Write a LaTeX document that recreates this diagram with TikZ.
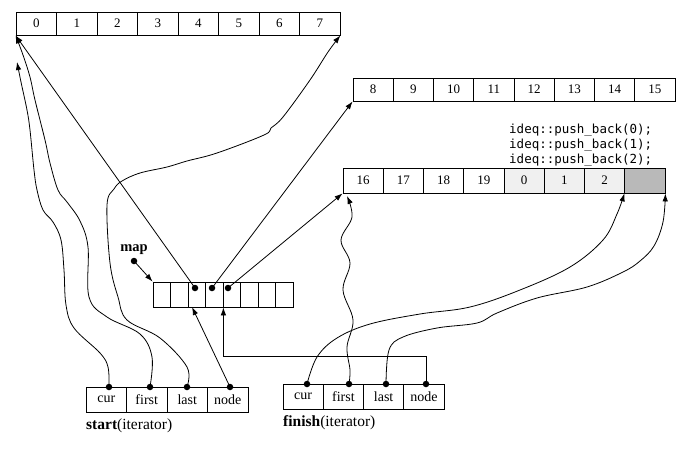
\documentclass[tikz,border=0pt]{standalone}
\usepackage{fontspec}
\setmainfont{Liberation Serif}
\newfontfamily\monofont{DejaVu Sans Mono}
\usetikzlibrary{arrows.meta,calc}
\tikzset{
  cell/.style={draw, line width=0.8pt, inner sep=0, minimum width=40.5pt, minimum height=23pt, font=\fontsize{13}{14}\selectfont},
  mcell/.style={draw, line width=0.8pt, inner sep=0, minimum width=17.5pt, minimum height=25pt},
  ptr/.style={line width=0.8pt, -{Latex[length=8pt,width=5.5pt]}},
  dot/.style={circle, fill=black, inner sep=0, minimum size=6.5pt},
  lbl/.style={font=\fontsize{15.5}{17}\selectfont, inner sep=0}
}
\begin{document}
\begin{tikzpicture}[x=1pt,y=-1pt]
\useasboundingbox (0,0) rectangle (690,450);
% top buffer
\foreach \i in {0,...,7} {
  \node[cell] (a\i) at ({16+40.5*\i+20.25},23.5) {\i};
}
% second buffer
\foreach \i [evaluate=\i as \v using int(\i+8)] in {0,...,7} {
  \node[cell, minimum width=40.25pt] (b\i) at ({353+40.25*\i+20.125},89.5) {\v};
}
% third buffer
\foreach \i/\t/\f in {0/16/white,1/17/white,2/18/white,3/19/white,4/0/gray!12,5/1/gray!12,6/2/gray!12,7/{}/gray!55} {
  \node[cell, minimum width=40.25pt, minimum height=25pt, fill=\f] (c\i) at ({343+40.25*\i+20.125},180.5) {\t};
}
% text
\node[anchor=west, align=left, inner sep=0, font=\fontsize{12.5}{15}\monofont] (code) at (509,145)
  {ideq::push\_back(0);\\ideq::push\_back(1);\\ideq::push\_back(2);};
% map
\foreach \i in {0,...,7} {
  \node[mcell] (m\i) at ({153+17.5*\i+8.75},294.5) {};
}
\node[inner sep=0, font=\fontsize{14.5}{16}\selectfont\bfseries] (maplbl) at (134,250) {map};
\node[dot] (mapd) at (134,261) {};
\node[dot] (md2) at (195,288) {};
\node[dot] (md3) at (212,288) {};
\node[dot] (md4) at (228,288) {};
% start iterator
\foreach \i/\t in {0/cur,1/first,2/last,3/node} {
  \node[cell, minimum height=25pt, font=\fontsize{14}{15}\selectfont] (s\i) at ({86+40.5*\i+20.25},399.5) {\t};
}
\node[lbl, anchor=west] (slbl) at (86,426) {\textbf{start}(iterator)};
% finish iterator
\foreach \i/\t in {0/cur,1/first,2/last,3/node} {
  \node[cell, minimum width=40.25pt, minimum height=25pt, font=\fontsize{14}{15}\selectfont] (f\i) at ({283+40.25*\i+20.125},396.5) {\t};
}
\node[lbl, anchor=west] (flbl) at (283,423) {\textbf{finish}(iterator)};
% dots on iterators
\node[dot] (sd0) at (109,387) {};
\node[dot] (sd1) at (150,387) {};
\node[dot] (sd2) at (187,387) {};
\node[dot] (sd3) at (230,387) {};
\node[dot] (fd0) at (307,384) {};
\node[dot] (fd1) at (349,384) {};
\node[dot] (fd2) at (386,384) {};
\node[dot] (fd3) at (426,384) {};
\coordinate (a0low) at (17,62);
\coordinate (m2bot) at (192,307);
\coordinate (c0first) at (347,196);
% map pointers
\draw[ptr] (mapd.center) -- (m0.north west);
\draw[ptr] (md2.center) -- (a0.south west);
\draw[ptr] (md3.center) -- (b0.south west);
\draw[ptr] (md4.center) -- (c0.south west);
% start iterator pointers
\draw[ptr] (sd3.center) -- (m2bot);
\draw[ptr] plot[smooth, tension=0.6] coordinates {(sd0.center) (108,367) (100,353) (74,328) (66,305) (64,270) (61,240) (53,222) (43,210) (37,190) (34,170) (30,130) (27,110) (21,82) (a0low)};
\draw[ptr] plot[smooth, tension=0.6] coordinates {(sd1.center) (152,357) (140,334) (107,317) (89,297) (88,247) (80,221) (67,202) (58,190) (50,163) (45,140) (35,100) (30,77) (23,55) (a0.south west)};
\draw[ptr] plot[smooth, tension=0.6] coordinates {(sd2.center) (187,367) (160,338) (127,320) (118,297) (110,263) (107,205) (114,189) (122,181) (140,173) (167,167) (187,161) (217,153) (264,135) (271,128) (283,117) (310,80) (328,52) (a7.south east)};
% finish iterator pointers
\draw[ptr] (fd3.center) -- (426,356) -| (m3.south east);
\draw[ptr] plot[smooth, tension=0.6] coordinates {(fd0.center) (317,357) (337,338) (370,324) (420,314) (470,307) (520,290) (570,267) (603,240) (617,214) (c7.south west)};
\draw[ptr] plot[smooth, tension=0.6] coordinates {(fd1.center) (350,370) (347,347) (353,320) (343,290) (350,263) (341,240) (352,217) (c0first)};
\draw[ptr] plot[smooth, tension=0.6] coordinates {(fd2.center) (389,350) (403,337) (437,328) (477,323) (497,313) (537,298) (587,287) (623,272) (640,261) (654,246) (663,222) (c7.south east)};
\end{tikzpicture}
\end{document}
